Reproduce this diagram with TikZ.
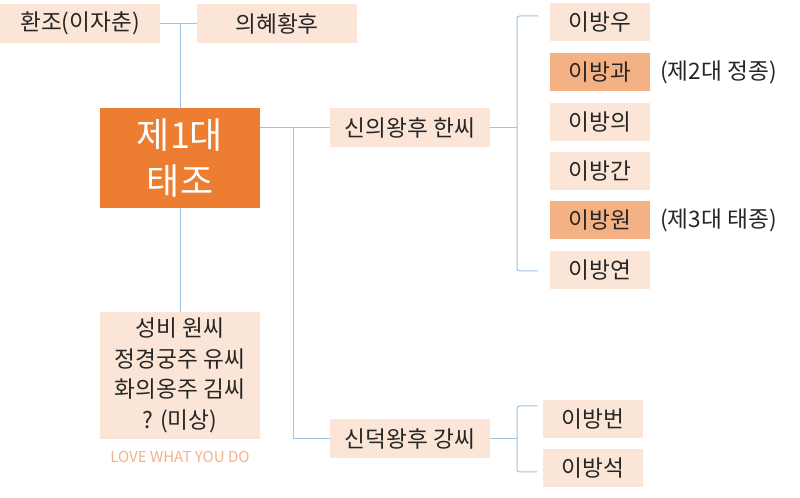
\documentclass[tikz,border=0pt]{standalone}
\usepackage{fontspec}
\setmainfont{Noto Sans CJK KR}
\usetikzlibrary{positioning}
\definecolor{taejoorange}{HTML}{ED7D31}
\definecolor{peach}{HTML}{FBE5D6}
\definecolor{peachdark}{HTML}{F4B183}
\definecolor{linkblue}{HTML}{9DC3E6}

\begin{document}
\begin{tikzpicture}[x=0.75pt,y=-0.75pt,
  person/.style={fill=peach,text=black!85,inner sep=0pt,minimum width=120pt,
    minimum height=29.25pt,font=\fontsize{17}{23}\selectfont},
  son/.style={person,minimum width=75pt,minimum height=28.5pt},
  king/.style={son,fill=peachdark},
  note/.style={anchor=west,inner sep=0pt,text=black!85,font=\fontsize{17}{20}\selectfont},
  link/.style={linkblue,line width=0.75pt}]
  \useasboundingbox (0,0) rectangle (800,498);

  % Parents
  \node[person] (hwanjo) at (80,23.5) {환조(이자춘)};
  \node[person] (uihye) at (277,23.5) {의혜황후};

  % The king
  \node[person,fill=taejoorange,text=white,align=center,minimum height=75pt,
    font=\fontsize{27}{35}\selectfont] (taejo) at (180,158) {제1대\\태조};

  % Queens and concubines
  \node[person] (sinui) at (410,127.5) {신의왕후 한씨};
  \node[person] (sindeok) at (410,439) {신덕왕후 강씨};
  \node[person,align=center,minimum height=95.25pt] (concubines) at (180,375.5)
    {성비 원씨\\정경궁주 유씨\\화의옹주 김씨\\? (미상)};
  \node[text=peachdark,font=\fontsize{11.3}{13}\selectfont] (motto) at (180,457) {LOVE WHAT YOU DO};

  % Sons of Queen Sinui
  \node[son] (bangwoo) at (600,22.5) {이방우};
  \node[king] (banggwa) at (600,72) {이방과};
  \node[son] (bangui) at (600,122) {이방의};
  \node[son] (bangkan) at (600,171) {이방간};
  \node[king] (bangwon) at (600,220.5) {이방원};
  \node[son] (bangyeon) at (600,270) {이방연};
  \node[note] (jeongjong) at (660,72) {(제2대 정종)};
  \node[note] (taejong) at (660,220.5) {(제3대 태종)};

  % Sons of Queen Sindeok
  \node[son] (bangbeon) at (593,419.5) {이방번};
  \node[son] (bangseok) at (593,468.5) {이방석};

  % Family lines
  \draw[link] (hwanjo) -- (uihye);
  \draw[link] (taejo.north) -- (taejo.north |- hwanjo.east);
  \draw[link] (taejo.south) -- (concubines.north);
  \coordinate (fork) at (293,127.5);
  \draw[link] (taejo.east |- sinui.west) -- (sinui.west);
  \draw[link] (fork) |- (sindeok.west);

  % Brackets to the sons
  \coordinate (brA) at (517,127.5);
  \coordinate (topA) at (538,16);
  \coordinate (botA) at (538,271);
  \draw[link] (sinui.east) -- (brA);
  \draw[link,rounded corners=2pt] (topA) -| (brA) |- (botA);
  \coordinate (brB) at (517,439);
  \coordinate (topB) at (537,406);
  \coordinate (botB) at (537,472);
  \draw[link] (sindeok.east) -- (brB);
  \draw[link,rounded corners=2pt] (topB) -| (brB) |- (botB);
\end{tikzpicture}
\end{document}
